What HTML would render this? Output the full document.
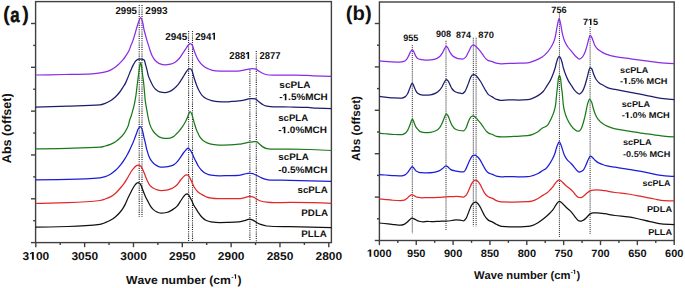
<!DOCTYPE html><html><head><meta charset="utf-8"><style>html,body{margin:0;padding:0;background:#fff;width:685px;height:288px;overflow:hidden}svg{display:block}text{font-family:"Liberation Sans",sans-serif;font-weight:bold;font-kerning:none;text-rendering:geometricPrecision}</style></head><body>
<svg width="685" height="288" viewBox="0 0 685 288" xmlns="http://www.w3.org/2000/svg">
<rect width="685" height="288" fill="#fff"/>
<rect x="35.6" y="1.6" width="295.79999999999995" height="241.0" fill="none" stroke="#404040" stroke-width="1.4"/>
<line x1="31.00" y1="242.60" x2="35.6" y2="242.60" stroke="#404040" stroke-width="1.4"/>
<line x1="33.20" y1="220.69" x2="35.6" y2="220.69" stroke="#404040" stroke-width="1.4"/>
<line x1="31.00" y1="198.78" x2="35.6" y2="198.78" stroke="#404040" stroke-width="1.4"/>
<line x1="33.20" y1="176.87" x2="35.6" y2="176.87" stroke="#404040" stroke-width="1.4"/>
<line x1="31.00" y1="154.96" x2="35.6" y2="154.96" stroke="#404040" stroke-width="1.4"/>
<line x1="33.20" y1="133.05" x2="35.6" y2="133.05" stroke="#404040" stroke-width="1.4"/>
<line x1="31.00" y1="111.14" x2="35.6" y2="111.14" stroke="#404040" stroke-width="1.4"/>
<line x1="33.20" y1="89.23" x2="35.6" y2="89.23" stroke="#404040" stroke-width="1.4"/>
<line x1="31.00" y1="67.32" x2="35.6" y2="67.32" stroke="#404040" stroke-width="1.4"/>
<line x1="33.20" y1="45.41" x2="35.6" y2="45.41" stroke="#404040" stroke-width="1.4"/>
<line x1="31.00" y1="23.50" x2="35.6" y2="23.50" stroke="#404040" stroke-width="1.4"/>
<line x1="35.80" y1="242.6" x2="35.80" y2="247.20" stroke="#404040" stroke-width="1.4"/>
<line x1="84.63" y1="242.6" x2="84.63" y2="247.20" stroke="#404040" stroke-width="1.4"/>
<line x1="133.47" y1="242.6" x2="133.47" y2="247.20" stroke="#404040" stroke-width="1.4"/>
<line x1="182.30" y1="242.6" x2="182.30" y2="247.20" stroke="#404040" stroke-width="1.4"/>
<line x1="231.13" y1="242.6" x2="231.13" y2="247.20" stroke="#404040" stroke-width="1.4"/>
<line x1="279.97" y1="242.6" x2="279.97" y2="247.20" stroke="#404040" stroke-width="1.4"/>
<line x1="328.80" y1="242.6" x2="328.80" y2="247.20" stroke="#404040" stroke-width="1.4"/>
<line x1="60.22" y1="242.6" x2="60.22" y2="245.00" stroke="#404040" stroke-width="1.4"/>
<line x1="109.05" y1="242.6" x2="109.05" y2="245.00" stroke="#404040" stroke-width="1.4"/>
<line x1="157.88" y1="242.6" x2="157.88" y2="245.00" stroke="#404040" stroke-width="1.4"/>
<line x1="206.72" y1="242.6" x2="206.72" y2="245.00" stroke="#404040" stroke-width="1.4"/>
<line x1="255.55" y1="242.6" x2="255.55" y2="245.00" stroke="#404040" stroke-width="1.4"/>
<line x1="304.38" y1="242.6" x2="304.38" y2="245.00" stroke="#404040" stroke-width="1.4"/>
<line x1="139.2" y1="5" x2="139.2" y2="217" stroke="#222" stroke-width="1.1" stroke-dasharray="1.1 1.1"/>
<line x1="142.0" y1="5" x2="142.0" y2="217" stroke="#222" stroke-width="1.1" stroke-dasharray="1.1 1.1"/>
<line x1="188.6" y1="31" x2="188.6" y2="242.0" stroke="#222" stroke-width="1.1" stroke-dasharray="1.1 1.1"/>
<line x1="192.5" y1="31" x2="192.5" y2="242.0" stroke="#222" stroke-width="1.1" stroke-dasharray="1.1 1.1"/>
<line x1="249.9" y1="69.6" x2="249.9" y2="241" stroke="#222" stroke-width="1.1" stroke-dasharray="1.1 1.1"/>
<line x1="256.3" y1="51" x2="256.3" y2="242.0" stroke="#222" stroke-width="1.1" stroke-dasharray="1.1 1.1"/>
<path d="M35.60,75.00C45.07,74.87 54.53,74.70 64.00,74.50C73.33,74.31 82.67,74.23 92.00,73.80C95.30,73.65 98.60,73.16 101.90,72.60C104.23,72.21 106.57,71.63 108.90,70.80C110.73,70.15 112.57,69.03 114.40,67.80C116.03,66.71 117.67,65.13 119.30,63.60C120.57,62.41 121.83,61.23 123.10,59.70C123.97,58.66 124.83,57.31 125.70,56.00C126.77,54.39 127.83,52.97 128.90,50.80C129.57,49.44 130.23,47.29 130.90,45.60C131.60,43.82 132.30,42.38 133.00,40.40C133.53,38.89 134.07,36.99 134.60,35.20C135.10,33.52 135.60,31.73 136.10,30.00C136.53,28.50 136.97,26.88 137.40,25.50C137.90,23.91 138.40,22.31 138.90,21.10C139.47,19.72 140.03,17.60 140.60,17.60C141.20,17.60 141.80,19.35 142.40,21.10C142.70,21.98 143.00,23.91 143.30,25.50C143.53,26.73 143.77,28.41 144.00,29.50C144.50,31.84 145.00,33.32 145.50,35.20C145.97,36.95 146.43,38.83 146.90,40.40C147.47,42.31 148.03,43.78 148.60,45.60C149.07,47.10 149.53,48.92 150.00,50.30C150.67,52.27 151.33,54.16 152.00,55.50C153.00,57.51 154.00,59.25 155.00,60.30C156.47,61.83 157.93,63.07 159.40,63.60C161.27,64.28 163.13,64.90 165.00,64.90C166.87,64.90 168.73,64.50 170.60,64.10C172.13,63.77 173.67,63.08 175.20,62.20C176.53,61.43 177.87,60.01 179.20,58.50C180.33,57.22 181.47,55.27 182.60,53.60C183.53,52.23 184.47,50.78 185.40,49.40C186.33,48.02 187.27,46.30 188.20,45.30C188.90,44.55 189.60,43.50 190.30,43.50C191.00,43.50 191.70,44.32 192.40,45.30C192.85,45.93 193.30,48.10 193.75,49.40C194.43,51.37 195.12,53.41 195.80,55.00C196.73,57.17 197.67,59.22 198.60,60.60C200.00,62.67 201.40,64.24 202.80,65.40C204.63,66.92 206.47,68.17 208.30,68.90C210.67,69.84 213.03,70.81 215.40,70.90C218.87,71.03 222.33,71.10 225.80,71.10C229.28,71.10 232.77,71.10 236.25,71.10C238.33,71.10 240.42,70.70 242.50,70.40C244.58,70.10 246.67,69.45 248.75,69.10C250.13,68.87 251.52,68.50 252.90,68.50C253.93,68.50 254.97,68.79 256.00,69.10C257.17,69.45 258.33,70.80 259.50,71.50C261.10,72.45 262.70,73.52 264.30,74.00C265.87,74.47 267.43,74.93 269.00,75.00C272.13,75.13 275.27,75.20 278.40,75.20C284.23,75.20 290.07,75.00 295.90,75.00C301.73,75.00 307.57,75.57 313.40,75.80C319.40,76.03 325.40,76.24 331.40,76.40" fill="none" stroke="#8a2be8" stroke-width="1.25" stroke-linejoin="round"/>
<path d="M35.60,107.10C46.40,106.87 57.20,106.56 68.00,106.20C78.67,105.85 89.33,105.83 100.00,104.90C101.73,104.75 103.47,104.03 105.20,103.40C106.93,102.77 108.67,101.86 110.40,100.80C112.13,99.74 113.87,98.31 115.60,96.70C117.00,95.40 118.40,93.82 119.80,92.00C120.83,90.66 121.87,88.92 122.90,87.30C123.77,85.94 124.63,84.77 125.50,83.10C126.37,81.43 127.23,78.98 128.10,76.90C128.97,74.82 129.83,72.59 130.70,70.60C131.57,68.60 132.43,66.51 133.30,64.90C134.17,63.29 135.03,61.44 135.90,60.70C136.77,59.96 137.63,59.30 138.50,59.20C139.57,59.08 140.63,59.00 141.70,59.00C142.53,59.00 143.37,59.41 144.20,60.10C144.70,60.52 145.20,63.42 145.70,65.20C146.17,66.86 146.63,68.53 147.10,70.40C147.50,72.00 147.90,74.31 148.30,75.60C149.00,77.86 149.70,79.25 150.40,80.80C151.27,82.72 152.13,84.62 153.00,86.00C153.83,87.32 154.67,88.57 155.50,89.30C156.87,90.51 158.23,91.55 159.60,91.90C161.33,92.34 163.07,92.70 164.80,92.70C166.53,92.70 168.27,92.04 170.00,91.40C171.40,90.88 172.80,89.74 174.20,88.60C175.55,87.50 176.90,86.06 178.25,84.40C179.30,83.11 180.35,81.33 181.40,79.70C182.27,78.35 183.13,76.88 184.00,75.50C184.87,74.12 185.73,72.60 186.60,71.40C187.30,70.43 188.00,68.80 188.70,68.80C189.38,68.80 190.07,68.80 190.75,68.80C191.27,68.80 191.78,70.18 192.30,71.40C192.67,72.27 193.03,74.23 193.40,75.50C194.00,77.59 194.60,79.51 195.20,81.30C195.80,83.09 196.40,84.84 197.00,86.30C197.73,88.08 198.47,89.70 199.20,91.00C200.23,92.83 201.27,94.55 202.30,95.60C203.70,97.02 205.10,98.07 206.50,98.75C208.23,99.60 209.97,100.21 211.70,100.60C213.77,101.06 215.83,101.51 217.90,101.60C220.68,101.72 223.47,101.80 226.25,101.80C228.17,101.80 230.08,101.54 232.00,101.40C234.27,101.24 236.53,101.13 238.80,100.90C240.53,100.72 242.27,100.44 244.00,100.10C245.47,99.81 246.93,99.12 248.40,98.90C249.70,98.71 251.00,98.50 252.30,98.50C253.33,98.50 254.37,98.67 255.40,98.90C256.57,99.16 257.73,100.89 258.90,101.80C260.07,102.71 261.23,103.78 262.40,104.40C263.87,105.18 265.33,105.98 266.80,106.20C269.13,106.55 271.47,106.74 273.80,106.80C279.20,106.93 284.60,106.91 290.00,107.00C296.03,107.10 302.07,107.16 308.10,107.40C310.77,107.51 313.43,108.07 316.10,108.20C321.20,108.45 326.30,108.65 331.40,108.65" fill="none" stroke="#1c1c6e" stroke-width="1.25" stroke-linejoin="round"/>
<path d="M35.60,148.80C46.40,148.74 57.20,148.53 68.00,148.30C78.67,148.07 89.33,147.98 100.00,147.20C101.73,147.07 103.47,146.47 105.20,146.00C106.93,145.53 108.67,144.99 110.40,144.30C112.13,143.61 113.87,142.79 115.60,141.70C117.33,140.61 119.07,139.05 120.80,137.30C122.03,136.06 123.27,134.58 124.50,132.80C125.37,131.55 126.23,130.08 127.10,128.30C127.57,127.34 128.03,126.38 128.50,124.90C128.80,123.95 129.10,122.05 129.40,121.00C130.02,118.84 130.63,117.75 131.25,115.80C131.73,114.27 132.22,112.36 132.70,110.60C133.17,108.90 133.63,107.44 134.10,105.40C134.43,103.94 134.77,102.03 135.10,100.20C135.40,98.56 135.70,97.07 136.00,95.00C136.20,93.62 136.40,91.67 136.60,90.00C136.90,87.50 137.20,84.87 137.50,82.50C137.83,79.87 138.17,77.50 138.50,75.00C138.83,72.50 139.17,69.37 139.50,67.50C139.87,65.44 140.23,62.60 140.60,62.60C140.97,62.60 141.33,65.35 141.70,67.50C142.00,69.26 142.30,72.63 142.60,75.00C142.93,77.63 143.27,79.53 143.60,82.50C143.83,84.58 144.07,87.45 144.30,90.00C144.45,91.64 144.60,93.30 144.75,95.00C144.90,96.70 145.05,98.92 145.20,100.20C145.47,102.48 145.73,103.77 146.00,105.40C146.30,107.24 146.60,108.92 146.90,110.60C147.20,112.28 147.50,113.97 147.80,115.50C148.13,117.20 148.47,118.91 148.80,120.30C149.27,122.25 149.73,124.16 150.20,125.40C151.07,127.71 151.93,129.29 152.80,130.60C153.67,131.91 154.53,132.90 155.40,133.75C156.80,135.12 158.20,136.56 159.60,137.10C161.33,137.77 163.07,138.40 164.80,138.40C166.53,138.40 168.27,138.29 170.00,138.10C171.17,137.98 172.33,137.29 173.50,136.60C174.53,135.99 175.57,134.70 176.60,133.70C177.30,133.02 178.00,132.38 178.70,131.60C179.90,130.26 181.10,128.63 182.30,126.90C183.17,125.65 184.03,124.29 184.90,122.75C185.60,121.51 186.30,120.19 187.00,118.60C187.53,117.39 188.07,115.59 188.60,114.40C189.10,113.29 189.60,111.50 190.10,111.50C190.70,111.50 191.30,113.03 191.90,114.40C192.37,115.47 192.83,117.93 193.30,119.60C193.80,121.39 194.30,123.19 194.80,124.80C195.37,126.63 195.93,128.47 196.50,129.90C197.07,131.33 197.63,132.40 198.20,133.60C198.63,134.52 199.07,135.62 199.50,136.30C200.60,138.03 201.70,139.32 202.80,140.20C204.27,141.37 205.73,142.23 207.20,142.80C208.93,143.48 210.67,144.03 212.40,144.30C214.70,144.65 217.00,145.00 219.30,145.00C222.77,145.00 226.23,144.90 229.70,144.80C232.73,144.71 235.77,144.50 238.80,144.20C240.53,144.03 242.27,143.63 244.00,143.30C245.77,142.97 247.53,142.46 249.30,142.20C250.47,142.03 251.63,141.91 252.80,141.80C253.97,141.69 255.13,141.50 256.30,141.50C257.17,141.50 258.03,142.79 258.90,143.50C260.07,144.46 261.23,145.89 262.40,146.60C263.87,147.49 265.33,148.38 266.80,148.60C269.13,148.95 271.47,149.20 273.80,149.20C279.20,149.20 284.60,149.00 290.00,149.00C303.80,149.00 317.60,149.52 331.40,150.50" fill="none" stroke="#1a7a1a" stroke-width="1.25" stroke-linejoin="round"/>
<path d="M35.60,179.80C46.40,179.80 57.20,179.61 68.00,179.40C78.67,179.19 89.33,178.84 100.00,177.80C101.73,177.63 103.47,177.13 105.20,176.60C106.93,176.07 108.67,175.19 110.40,174.20C112.13,173.21 113.87,171.84 115.60,170.30C117.33,168.76 119.07,166.75 120.80,164.60C122.03,163.07 123.27,161.30 124.50,159.40C125.37,158.06 126.23,156.56 127.10,155.00C127.87,153.62 128.63,152.16 129.40,150.60C130.02,149.35 130.63,147.97 131.25,146.60C131.87,145.23 132.48,143.88 133.10,142.40C133.70,140.96 134.30,139.37 134.90,137.80C135.43,136.40 135.97,134.96 136.50,133.50C137.00,132.13 137.50,130.18 138.00,129.30C138.70,128.07 139.40,126.70 140.10,126.70C140.63,126.70 141.17,127.42 141.70,128.25C142.10,128.87 142.50,130.80 142.90,132.40C143.27,133.87 143.63,136.01 144.00,137.60C144.43,139.48 144.87,140.92 145.30,142.80C145.67,144.39 146.03,146.52 146.40,148.00C146.70,149.21 147.00,150.18 147.30,151.20C147.73,152.67 148.17,154.31 148.60,155.40C149.48,157.62 150.37,159.39 151.25,160.60C152.63,162.49 154.02,163.94 155.40,164.80C157.13,165.88 158.87,167.10 160.60,167.10C162.33,167.10 164.07,167.01 165.80,166.90C167.53,166.79 169.27,166.29 171.00,165.80C172.00,165.52 173.00,165.15 174.00,164.60C175.03,164.03 176.07,162.99 177.10,161.90C178.15,160.79 179.20,159.18 180.25,157.70C181.30,156.22 182.35,154.39 183.40,153.00C184.27,151.86 185.13,150.76 186.00,149.90C186.70,149.21 187.40,148.10 188.10,148.10C188.77,148.10 189.43,149.12 190.10,149.90C190.80,150.72 191.50,152.14 192.20,153.50C192.90,154.86 193.60,156.72 194.30,158.20C195.00,159.68 195.70,161.05 196.40,162.40C197.13,163.82 197.87,165.38 198.60,166.50C199.57,167.98 200.53,169.26 201.50,170.20C202.93,171.60 204.37,172.83 205.80,173.50C207.53,174.31 209.27,174.99 211.00,175.20C213.90,175.55 216.80,175.80 219.70,175.80C222.60,175.80 225.50,175.67 228.40,175.60C231.87,175.51 235.33,175.49 238.80,175.30C240.53,175.20 242.27,174.55 244.00,174.20C245.90,173.82 247.80,173.10 249.70,173.10C250.73,173.10 251.77,173.42 252.80,173.70C253.97,174.01 255.13,174.75 256.30,175.30C257.47,175.85 258.63,176.47 259.80,177.00C261.53,177.79 263.27,178.78 265.00,179.20C266.77,179.63 268.53,180.06 270.30,180.10C276.87,180.25 283.43,180.21 290.00,180.30C303.80,180.49 317.60,180.88 331.40,181.40" fill="none" stroke="#1c1cd8" stroke-width="1.25" stroke-linejoin="round"/>
<path d="M35.60,203.40C46.40,203.40 57.20,203.06 68.00,202.70C78.67,202.35 89.33,201.89 100.00,200.50C101.73,200.27 103.47,199.58 105.20,199.00C106.93,198.42 108.67,197.79 110.40,196.90C112.13,196.01 113.87,194.70 115.60,193.20C117.33,191.70 119.07,189.55 120.80,187.50C122.03,186.04 123.27,184.57 124.50,182.80C125.37,181.56 126.23,180.04 127.10,178.60C127.90,177.27 128.70,175.87 129.50,174.50C130.08,173.50 130.67,172.36 131.25,171.50C132.30,169.95 133.35,168.53 134.40,167.50C135.27,166.65 136.13,165.66 137.00,165.40C137.70,165.19 138.40,165.00 139.10,165.00C139.77,165.00 140.43,165.78 141.10,166.50C141.63,167.07 142.17,168.29 142.70,169.40C143.40,170.85 144.10,172.87 144.80,174.60C145.50,176.33 146.20,178.26 146.90,179.80C147.77,181.70 148.63,183.79 149.50,184.90C150.53,186.22 151.57,187.15 152.60,187.80C153.82,188.56 155.03,189.16 156.25,189.50C158.00,189.99 159.75,190.50 161.50,190.50C163.23,190.50 164.97,190.37 166.70,190.20C168.43,190.03 170.17,189.17 171.90,188.40C172.60,188.09 173.30,187.66 174.00,187.20C175.03,186.52 176.07,185.74 177.10,184.70C178.15,183.65 179.20,181.79 180.25,180.50C181.30,179.21 182.35,177.92 183.40,176.90C184.10,176.22 184.80,175.29 185.50,175.10C186.10,174.94 186.70,174.80 187.30,174.80C187.90,174.80 188.50,175.59 189.10,176.30C189.63,176.93 190.17,178.34 190.70,179.50C191.20,180.59 191.70,182.00 192.20,183.10C192.90,184.64 193.60,186.15 194.30,187.30C195.17,188.73 196.03,189.99 196.90,190.90C197.93,191.99 198.97,192.82 200.00,193.50C201.17,194.27 202.33,194.77 203.50,195.40C204.63,196.01 205.77,196.83 206.90,197.20C208.37,197.67 209.83,198.02 211.30,198.20C213.33,198.45 215.37,198.70 217.40,198.70C220.27,198.70 223.13,198.70 226.00,198.70C230.27,198.70 234.53,198.70 238.80,198.70C240.53,198.70 242.27,198.16 244.00,197.80C245.90,197.40 247.80,196.30 249.70,196.30C250.73,196.30 251.77,196.60 252.80,196.90C253.97,197.23 255.13,198.28 256.30,198.90C257.73,199.66 259.17,200.59 260.60,201.00C262.67,201.59 264.73,201.98 266.80,202.20C269.13,202.45 271.47,202.70 273.80,202.70C279.20,202.70 284.60,202.40 290.00,202.40C303.80,202.40 317.60,202.60 331.40,203.30" fill="none" stroke="#e02828" stroke-width="1.25" stroke-linejoin="round"/>
<path d="M35.60,227.10C46.40,227.10 57.20,226.82 68.00,226.50C78.67,226.19 89.33,225.71 100.00,224.30C101.73,224.07 103.47,223.34 105.20,222.70C106.93,222.06 108.67,221.26 110.40,220.30C112.13,219.34 113.87,218.13 115.60,216.70C117.00,215.55 118.40,214.12 119.80,212.50C120.83,211.30 121.87,209.89 122.90,208.30C123.70,207.07 124.50,205.67 125.30,204.10C126.23,202.27 127.17,199.78 128.10,197.80C129.15,195.57 130.20,193.50 131.25,191.50C132.30,189.50 133.35,187.25 134.40,185.80C135.10,184.83 135.80,183.85 136.50,183.40C137.00,183.08 137.50,182.70 138.00,182.70C138.70,182.70 139.40,183.15 140.10,183.70C140.63,184.12 141.17,185.67 141.70,186.90C142.20,188.06 142.70,189.70 143.20,191.00C143.90,192.82 144.60,194.65 145.30,196.20C146.00,197.75 146.70,199.04 147.40,200.40C148.27,202.08 149.13,203.95 150.00,205.30C151.03,206.91 152.07,208.47 153.10,209.40C154.50,210.66 155.90,211.71 157.30,212.20C158.70,212.69 160.10,213.20 161.50,213.20C163.23,213.20 164.97,212.86 166.70,212.50C168.43,212.14 170.17,211.08 171.90,210.10C172.77,209.61 173.63,208.96 174.50,208.30C175.37,207.64 176.23,207.01 177.10,206.10C178.15,204.99 179.20,203.13 180.25,201.60C181.30,200.07 182.35,198.25 183.40,196.90C184.10,196.00 184.80,194.95 185.50,194.50C186.00,194.18 186.50,193.80 187.00,193.80C187.53,193.80 188.07,194.37 188.60,194.90C189.10,195.39 189.60,196.59 190.10,197.50C190.63,198.48 191.17,199.50 191.70,200.60C192.40,202.05 193.10,204.00 193.80,205.30C194.67,206.91 195.53,208.05 196.40,209.40C197.27,210.75 198.13,212.15 199.00,213.40C199.83,214.60 200.67,215.93 201.50,216.80C202.93,218.29 204.37,219.65 205.80,220.30C207.53,221.09 209.27,221.69 211.00,221.90C213.90,222.25 216.80,222.50 219.70,222.50C222.60,222.50 225.50,222.39 228.40,222.30C231.87,222.19 235.33,222.09 238.80,221.80C240.53,221.65 242.27,221.11 244.00,220.70C245.90,220.26 247.80,219.20 249.70,219.20C250.73,219.20 251.77,219.69 252.80,220.10C253.97,220.56 255.13,221.66 256.30,222.30C257.73,223.09 259.17,223.91 260.60,224.40C262.67,225.11 264.73,225.77 266.80,226.00C269.13,226.26 271.47,226.45 273.80,226.50C279.20,226.63 284.60,226.62 290.00,226.70C303.80,226.91 317.60,227.21 331.40,227.60" fill="none" stroke="#111111" stroke-width="1.25" stroke-linejoin="round"/>
<g transform="translate(115.46,13.90) scale(0.9666,1)"><text x="0.000" y="0.000" font-size="10.0" fill="#111" >2995</text></g>
<g transform="translate(145.35,13.90) scale(0.9982,1)"><text x="0.000" y="0.000" font-size="10.0" fill="#111" >2993</text></g>
<g transform="translate(165.36,39.60) scale(0.9898,1)"><text x="0.000" y="0.000" font-size="10.0" fill="#111" >2945</text></g>
<g transform="translate(195.27,39.70) scale(0.9620,1)"><text x="0.000" y="0.000" font-size="10.0" fill="#111" >294</text><path transform="translate(16.685,0.000) scale(0.004883,-0.004883)" d="M455,0L455,1145L125,940L125,1190L480,1409L785,1409L785,0Z" fill="#111"/></g>
<g transform="translate(229.37,59.00) scale(0.9620,1)"><text x="0.000" y="0.000" font-size="10.0" fill="#111" >288</text><path transform="translate(16.685,0.000) scale(0.004883,-0.004883)" d="M455,0L455,1145L125,940L125,1190L480,1409L785,1409L785,0Z" fill="#111"/></g>
<g transform="translate(259.57,59.00) scale(0.9459,1)"><text x="0.000" y="0.000" font-size="10.0" fill="#111" >2877</text></g>
<g transform="translate(279.35,88.00) scale(1.0670,1)"><text x="0.000" y="0.000" font-size="9.4" fill="#111" >scPLA</text></g>
<g transform="translate(279.31,100.30) scale(1.0564,1)"><text x="0.000" y="0.000" font-size="9.4" fill="#111" >-</text><path transform="translate(3.130,0.000) scale(0.004590,-0.004590)" d="M455,0L455,1145L125,940L125,1190L480,1409L785,1409L785,0Z" fill="#111"/><text x="8.358" y="0.000" font-size="9.4" fill="#111" >.5%MCH</text></g>
<g transform="translate(278.26,121.30) scale(1.0217,1)"><text x="0.000" y="0.000" font-size="9.4" fill="#111" >scPLA</text></g>
<g transform="translate(278.21,133.20) scale(1.0631,1)"><text x="0.000" y="0.000" font-size="9.4" fill="#111" >-</text><path transform="translate(3.130,0.000) scale(0.004590,-0.004590)" d="M455,0L455,1145L125,940L125,1190L480,1409L785,1409L785,0Z" fill="#111"/><text x="8.358" y="0.000" font-size="9.4" fill="#111" >.0%MCH</text></g>
<g transform="translate(278.25,160.10) scale(1.0461,1)"><text x="0.000" y="0.000" font-size="9.4" fill="#111" >scPLA</text></g>
<g transform="translate(278.20,172.60) scale(1.0765,1)"><text x="0.000" y="0.000" font-size="9.4" fill="#111" >-0.5%MCH</text></g>
<g transform="translate(297.46,193.00) scale(1.0391,1)"><text x="0.000" y="0.000" font-size="9.4" fill="#111" >scPLA</text></g>
<g transform="translate(301.34,216.10) scale(1.0440,1)"><text x="0.000" y="0.000" font-size="9.4" fill="#111" >PDLA</text></g>
<g transform="translate(301.35,236.70) scale(1.0395,1)"><text x="0.000" y="0.000" font-size="9.4" fill="#111" >PLLA</text></g>
<rect x="379.4" y="2.0" width="294.80000000000007" height="238.5" fill="none" stroke="#404040" stroke-width="1.4"/>
<line x1="374.80" y1="240.50" x2="379.4" y2="240.50" stroke="#404040" stroke-width="1.4"/>
<line x1="377.00" y1="218.80" x2="379.4" y2="218.80" stroke="#404040" stroke-width="1.4"/>
<line x1="374.80" y1="197.10" x2="379.4" y2="197.10" stroke="#404040" stroke-width="1.4"/>
<line x1="377.00" y1="175.40" x2="379.4" y2="175.40" stroke="#404040" stroke-width="1.4"/>
<line x1="374.80" y1="153.70" x2="379.4" y2="153.70" stroke="#404040" stroke-width="1.4"/>
<line x1="377.00" y1="132.00" x2="379.4" y2="132.00" stroke="#404040" stroke-width="1.4"/>
<line x1="374.80" y1="110.30" x2="379.4" y2="110.30" stroke="#404040" stroke-width="1.4"/>
<line x1="377.00" y1="88.60" x2="379.4" y2="88.60" stroke="#404040" stroke-width="1.4"/>
<line x1="374.80" y1="66.90" x2="379.4" y2="66.90" stroke="#404040" stroke-width="1.4"/>
<line x1="377.00" y1="45.20" x2="379.4" y2="45.20" stroke="#404040" stroke-width="1.4"/>
<line x1="374.80" y1="23.50" x2="379.4" y2="23.50" stroke="#404040" stroke-width="1.4"/>
<line x1="379.40" y1="240.5" x2="379.40" y2="245.10" stroke="#404040" stroke-width="1.4"/>
<line x1="416.25" y1="240.5" x2="416.25" y2="245.10" stroke="#404040" stroke-width="1.4"/>
<line x1="453.10" y1="240.5" x2="453.10" y2="245.10" stroke="#404040" stroke-width="1.4"/>
<line x1="489.95" y1="240.5" x2="489.95" y2="245.10" stroke="#404040" stroke-width="1.4"/>
<line x1="526.80" y1="240.5" x2="526.80" y2="245.10" stroke="#404040" stroke-width="1.4"/>
<line x1="563.65" y1="240.5" x2="563.65" y2="245.10" stroke="#404040" stroke-width="1.4"/>
<line x1="600.50" y1="240.5" x2="600.50" y2="245.10" stroke="#404040" stroke-width="1.4"/>
<line x1="637.35" y1="240.5" x2="637.35" y2="245.10" stroke="#404040" stroke-width="1.4"/>
<line x1="674.20" y1="240.5" x2="674.20" y2="245.10" stroke="#404040" stroke-width="1.4"/>
<line x1="397.82" y1="240.5" x2="397.82" y2="242.90" stroke="#404040" stroke-width="1.4"/>
<line x1="434.68" y1="240.5" x2="434.68" y2="242.90" stroke="#404040" stroke-width="1.4"/>
<line x1="471.52" y1="240.5" x2="471.52" y2="242.90" stroke="#404040" stroke-width="1.4"/>
<line x1="508.38" y1="240.5" x2="508.38" y2="242.90" stroke="#404040" stroke-width="1.4"/>
<line x1="545.23" y1="240.5" x2="545.23" y2="242.90" stroke="#404040" stroke-width="1.4"/>
<line x1="582.08" y1="240.5" x2="582.08" y2="242.90" stroke="#404040" stroke-width="1.4"/>
<line x1="618.93" y1="240.5" x2="618.93" y2="242.90" stroke="#404040" stroke-width="1.4"/>
<line x1="655.78" y1="240.5" x2="655.78" y2="242.90" stroke="#404040" stroke-width="1.4"/>
<line x1="412.3" y1="45.2" x2="412.3" y2="233.6" stroke="#222" stroke-width="1.0" stroke-dasharray="1 0.96"/>
<line x1="446.0" y1="40.8" x2="446.0" y2="230" stroke="#222" stroke-width="1.0" stroke-dasharray="1 0.96"/>
<line x1="473.3" y1="37.7" x2="473.3" y2="226.3" stroke="#222" stroke-width="1.0" stroke-dasharray="1 0.96"/>
<line x1="476.1" y1="37.7" x2="476.1" y2="226.3" stroke="#222" stroke-width="1.0" stroke-dasharray="1 0.96"/>
<line x1="559.4" y1="12.5" x2="559.4" y2="237.6" stroke="#222" stroke-width="1.0" stroke-dasharray="1 0.96"/>
<line x1="590.1" y1="27" x2="590.1" y2="234.4" stroke="#222" stroke-width="1.0" stroke-dasharray="1 0.96"/>
<path d="M379.40,60.80C381.00,61.04 382.60,61.26 384.20,61.40C386.63,61.62 389.07,61.81 391.50,61.90C394.27,62.00 397.03,62.10 399.80,62.10C401.20,62.10 402.60,61.81 404.00,61.40C404.87,61.15 405.73,60.27 406.60,59.30C407.30,58.51 408.00,56.96 408.70,55.60C409.22,54.60 409.73,53.09 410.25,52.30C410.93,51.25 411.62,49.90 412.30,49.90C412.83,49.90 413.37,51.12 413.90,52.00C414.43,52.88 414.97,54.66 415.50,55.60C416.10,56.66 416.70,57.80 417.30,58.20C418.27,58.85 419.23,59.19 420.20,59.40C421.93,59.77 423.67,60.10 425.40,60.10C427.13,60.10 428.87,60.01 430.60,59.90C432.33,59.79 434.07,59.36 435.80,58.80C437.20,58.35 438.60,57.43 440.00,56.20C440.87,55.44 441.73,54.03 442.60,52.60C443.30,51.45 444.00,49.52 444.70,48.40C445.22,47.57 445.73,46.30 446.25,46.30C446.77,46.30 447.28,47.21 447.80,47.90C448.50,48.84 449.20,50.95 449.90,52.10C450.77,53.53 451.63,54.93 452.50,55.70C453.37,56.47 454.23,56.96 455.10,57.40C456.15,57.94 457.20,58.53 458.25,58.70C459.63,58.92 461.02,59.10 462.40,59.10C463.43,59.10 464.47,58.29 465.50,57.40C466.20,56.79 466.90,55.01 467.60,53.70C468.30,52.39 469.00,50.88 469.70,49.50C470.23,48.45 470.77,46.98 471.30,46.40C471.98,45.66 472.67,44.90 473.35,44.90C474.03,44.90 474.72,45.46 475.40,45.90C476.27,46.46 477.13,47.56 478.00,48.50C478.87,49.44 479.73,50.49 480.60,51.60C481.48,52.74 482.37,54.08 483.25,55.30C484.13,56.52 485.02,58.09 485.90,58.90C486.77,59.69 487.63,60.38 488.50,60.70C489.73,61.16 490.97,61.23 492.20,61.60C493.57,62.01 494.93,62.97 496.30,63.20C498.03,63.50 499.77,63.75 501.50,63.75C505.67,63.75 509.83,63.44 514.00,63.30C518.53,63.15 523.07,63.17 527.60,62.90C530.03,62.76 532.47,61.54 534.90,60.60C537.33,59.66 539.77,58.59 542.20,57.00C543.97,55.85 545.73,54.10 547.50,52.10C548.70,50.74 549.90,49.00 551.10,47.00C552.07,45.39 553.03,43.78 554.00,41.20C554.53,39.78 555.07,37.75 555.60,35.30C555.93,33.77 556.27,31.34 556.60,29.50C556.97,27.47 557.33,25.29 557.70,23.70C558.17,21.67 558.63,18.60 559.10,18.60C559.60,18.60 560.10,21.52 560.60,23.70C560.93,25.15 561.27,27.74 561.60,29.50C562.00,31.61 562.40,33.76 562.80,35.30C563.43,37.73 564.07,39.72 564.70,41.20C565.77,43.70 566.83,45.45 567.90,47.00C569.33,49.08 570.77,50.39 572.20,52.10C573.33,53.46 574.47,55.20 575.60,56.20C576.97,57.40 578.33,59.00 579.70,59.00C580.63,59.00 581.57,57.91 582.50,56.90C583.43,55.89 584.37,53.74 585.30,51.40C586.00,49.65 586.70,46.99 587.40,44.40C587.85,42.74 588.30,40.33 588.75,38.90C589.20,37.47 589.65,35.40 590.10,35.40C590.57,35.40 591.03,36.13 591.50,36.80C591.97,37.47 592.43,39.11 592.90,40.30C593.60,42.09 594.30,44.60 595.00,45.80C595.93,47.41 596.87,48.46 597.80,49.30C599.17,50.53 600.53,51.31 601.90,52.10C603.30,52.91 604.70,53.69 606.10,54.20C609.13,55.32 612.17,56.13 615.20,56.70C620.30,57.66 625.40,58.12 630.50,58.80C635.63,59.49 640.77,60.11 645.90,60.80C651.00,61.48 656.10,62.51 661.20,62.90C665.53,63.23 669.87,63.53 674.20,63.60" fill="none" stroke="#8a2be8" stroke-width="1.25" stroke-linejoin="round"/>
<path d="M379.40,96.40C381.35,96.66 383.30,96.90 385.25,97.10C388.37,97.41 391.48,97.77 394.60,97.90C397.03,98.00 399.47,98.10 401.90,98.10C402.93,98.10 403.97,97.52 405.00,96.90C405.87,96.38 406.73,95.18 407.60,93.75C408.30,92.59 409.00,90.09 409.70,88.50C410.57,86.53 411.43,83.10 412.30,83.10C413.00,83.10 413.70,85.98 414.40,87.50C414.93,88.66 415.47,90.26 416.00,91.10C416.70,92.21 417.40,93.12 418.10,93.60C418.80,94.08 419.50,94.46 420.20,94.60C421.93,94.95 423.67,95.20 425.40,95.20C427.13,95.20 428.87,95.02 430.60,94.80C432.33,94.58 434.07,93.91 435.80,93.10C437.03,92.52 438.27,91.53 439.50,90.30C440.37,89.44 441.23,88.13 442.10,86.70C442.80,85.55 443.50,83.66 444.20,82.50C444.88,81.37 445.57,79.60 446.25,79.60C446.87,79.60 447.48,80.25 448.10,80.90C448.70,81.53 449.30,83.39 449.90,84.60C450.60,86.01 451.30,87.82 452.00,88.75C453.03,90.12 454.07,91.24 455.10,91.75C456.15,92.27 457.20,92.56 458.25,92.80C459.63,93.11 461.02,93.50 462.40,93.50C463.27,93.50 464.13,92.44 465.00,91.40C465.70,90.56 466.40,88.43 467.10,86.75C467.63,85.47 468.17,84.04 468.70,82.60C469.20,81.25 469.70,79.50 470.20,78.40C470.73,77.22 471.27,75.91 471.80,75.50C472.50,74.96 473.20,74.50 473.90,74.50C474.60,74.50 475.30,75.02 476.00,75.50C476.67,75.96 477.33,77.05 478.00,77.90C478.87,79.01 479.73,80.15 480.60,81.50C481.48,82.87 482.37,84.63 483.25,86.20C484.13,87.77 485.02,89.51 485.90,90.90C486.77,92.27 487.63,93.83 488.50,94.60C489.73,95.69 490.97,96.16 492.20,96.90C493.57,97.72 494.93,98.84 496.30,99.30C497.70,99.77 499.10,100.30 500.50,100.30C503.27,100.30 506.03,99.80 508.80,99.80C512.28,99.80 515.77,100.00 519.25,100.00C522.03,100.00 524.82,99.84 527.60,99.60C529.33,99.45 531.07,98.81 532.80,98.20C534.53,97.59 536.27,96.66 538.00,95.60C539.73,94.54 541.47,93.33 543.20,91.50C544.40,90.24 545.60,87.96 546.80,86.10C547.95,84.32 549.10,82.78 550.25,80.60C551.17,78.86 552.08,76.70 553.00,74.30C553.70,72.47 554.40,70.40 555.10,68.00C555.57,66.40 556.03,64.09 556.50,62.50C556.97,60.91 557.43,59.22 557.90,58.30C558.37,57.38 558.83,56.25 559.30,56.25C559.77,56.25 560.23,57.38 560.70,58.30C561.17,59.22 561.63,60.86 562.10,62.50C562.53,64.02 562.97,66.46 563.40,68.00C564.10,70.49 564.80,72.49 565.50,74.30C566.43,76.72 567.37,78.86 568.30,80.60C569.47,82.77 570.63,84.30 571.80,86.10C572.70,87.49 573.60,89.12 574.50,90.20C575.30,91.16 576.10,92.02 576.90,92.60C577.73,93.20 578.57,94.00 579.40,94.00C580.43,94.00 581.47,92.61 582.50,91.25C583.43,90.02 584.37,87.07 585.30,84.30C586.00,82.22 586.70,79.42 587.40,76.70C587.85,74.95 588.30,72.54 588.75,71.10C589.20,69.66 589.65,67.60 590.10,67.60C590.70,67.60 591.30,68.24 591.90,69.00C592.37,69.59 592.83,71.97 593.30,73.20C594.10,75.31 594.90,77.47 595.70,78.75C596.87,80.62 598.03,81.97 599.20,82.90C600.80,84.17 602.40,84.83 604.00,85.70C605.63,86.59 607.27,87.74 608.90,88.20C611.00,88.79 613.10,89.00 615.20,89.40C620.30,90.37 625.40,91.32 630.50,92.30C635.63,93.29 640.77,94.28 645.90,95.30C651.00,96.31 656.10,97.76 661.20,98.40C665.53,98.94 669.87,99.42 674.20,99.60" fill="none" stroke="#1c1c6e" stroke-width="1.25" stroke-linejoin="round"/>
<path d="M379.40,133.10C381.35,133.34 383.30,133.57 385.25,133.75C388.37,134.04 391.48,134.38 394.60,134.50C397.03,134.60 399.47,134.70 401.90,134.70C402.93,134.70 403.97,134.05 405.00,133.40C405.87,132.85 406.73,131.66 407.60,130.30C408.30,129.20 409.00,127.18 409.70,125.60C410.63,123.49 411.57,119.20 412.50,119.20C413.13,119.20 413.77,122.05 414.40,123.50C414.93,124.72 415.47,126.37 416.00,127.20C416.70,128.29 417.40,128.87 418.10,129.60C418.80,130.33 419.50,131.35 420.20,131.60C421.93,132.21 423.67,132.60 425.40,132.60C427.13,132.60 428.87,132.47 430.60,132.30C432.33,132.13 434.07,131.55 435.80,130.80C437.03,130.27 438.27,129.28 439.50,127.90C440.37,126.93 441.23,125.02 442.10,123.20C442.80,121.73 443.50,119.55 444.20,118.00C444.88,116.49 445.57,113.90 446.25,113.90C446.87,113.90 447.48,114.96 448.10,115.90C448.70,116.82 449.30,119.15 449.90,120.60C450.60,122.29 451.30,124.23 452.00,125.30C453.20,127.14 454.40,128.70 455.60,129.30C456.83,129.92 458.07,130.35 459.30,130.50C460.70,130.67 462.10,130.80 463.50,130.80C464.33,130.80 465.17,129.42 466.00,128.10C466.60,127.15 467.20,124.71 467.80,123.20C468.40,121.69 469.00,120.04 469.60,119.00C470.20,117.96 470.80,116.81 471.40,116.50C472.03,116.17 472.67,115.90 473.30,115.90C473.90,115.90 474.50,116.46 475.10,116.90C475.90,117.49 476.70,118.69 477.50,119.60C478.53,120.78 479.57,121.87 480.60,123.20C481.60,124.48 482.60,126.12 483.60,127.50C484.60,128.88 485.60,130.60 486.60,131.50C487.63,132.43 488.67,133.20 489.70,133.60C490.53,133.93 491.37,134.01 492.20,134.30C493.57,134.78 494.93,136.17 496.30,136.40C498.03,136.69 499.77,136.90 501.50,136.90C505.67,136.90 509.83,136.60 514.00,136.40C518.53,136.18 523.07,136.08 527.60,135.60C529.33,135.42 531.07,134.88 532.80,134.30C534.53,133.72 536.27,132.79 538.00,131.70C539.37,130.84 540.73,129.18 542.10,128.30C543.70,127.27 545.30,127.08 546.90,125.80C548.30,124.68 549.70,121.62 551.10,118.80C552.03,116.92 552.97,114.84 553.90,111.90C554.47,110.12 555.03,108.39 555.60,104.90C555.83,103.46 556.07,100.37 556.30,98.00C556.47,96.31 556.63,94.38 556.80,92.80C557.00,90.90 557.20,89.41 557.40,87.60C557.58,85.94 557.77,84.11 557.95,82.40C558.10,81.00 558.25,78.96 558.40,78.25C558.77,76.52 559.13,75.10 559.50,75.10C559.83,75.10 560.17,76.65 560.50,78.25C560.67,79.05 560.83,80.86 561.00,82.40C561.17,83.94 561.33,86.14 561.50,87.60C561.73,89.64 561.97,90.76 562.20,92.80C562.37,94.26 562.53,96.18 562.70,98.00C562.90,100.18 563.10,103.43 563.30,104.90C563.77,108.33 564.23,110.15 564.70,111.90C565.50,114.89 566.30,117.06 567.10,118.80C568.48,121.81 569.87,124.00 571.25,125.80C572.40,127.30 573.55,128.62 574.70,129.50C575.63,130.22 576.57,131.20 577.50,131.20C578.07,131.20 578.63,131.20 579.20,131.20C579.93,131.20 580.67,129.57 581.40,128.20C582.10,126.89 582.80,124.38 583.50,122.00C584.20,119.62 584.90,116.67 585.60,113.60C586.27,110.67 586.93,106.01 587.60,103.90C588.30,101.69 589.00,99.00 589.70,99.00C590.40,99.00 591.10,100.82 591.80,102.50C592.27,103.62 592.73,106.40 593.20,108.00C593.90,110.40 594.60,112.70 595.30,114.30C596.20,116.36 597.10,118.03 598.00,119.20C599.40,121.02 600.80,122.30 602.20,123.30C604.07,124.64 605.93,125.61 607.80,126.40C610.27,127.45 612.73,128.33 615.20,128.90C620.30,130.07 625.40,130.59 630.50,131.40C635.63,132.22 640.77,133.07 645.90,133.80C651.00,134.53 656.10,135.28 661.20,135.80C665.53,136.24 669.87,136.63 674.20,136.90" fill="none" stroke="#1a7a1a" stroke-width="1.25" stroke-linejoin="round"/>
<path d="M379.40,174.70C381.35,174.78 383.30,174.88 385.25,175.00C388.37,175.19 391.48,175.58 394.60,175.70C397.03,175.80 399.47,175.90 401.90,175.90C402.93,175.90 403.97,175.40 405.00,174.90C405.87,174.48 406.73,173.54 407.60,172.60C408.30,171.84 409.00,170.61 409.70,169.70C410.57,168.57 411.43,166.50 412.30,166.50C413.00,166.50 413.70,168.10 414.40,168.90C415.10,169.70 415.80,170.88 416.50,171.30C417.33,171.80 418.17,172.10 419.00,172.30C419.75,172.48 420.50,172.65 421.25,172.70C423.33,172.83 425.42,172.90 427.50,172.90C429.58,172.90 431.67,172.67 433.75,172.40C435.50,172.17 437.25,171.54 439.00,170.80C440.20,170.29 441.40,169.35 442.60,168.50C443.73,167.70 444.87,165.80 446.00,165.80C446.77,165.80 447.53,166.64 448.30,167.20C449.17,167.83 450.03,169.15 450.90,169.60C451.93,170.14 452.97,170.45 454.00,170.70C455.33,171.02 456.67,171.24 458.00,171.40C459.83,171.62 461.67,171.90 463.50,171.90C464.17,171.90 464.83,170.75 465.50,169.80C466.20,168.80 466.90,166.67 467.60,165.10C468.13,163.90 468.67,162.65 469.20,161.50C469.72,160.39 470.23,159.12 470.75,158.30C471.43,157.21 472.12,155.96 472.80,155.70C473.57,155.41 474.33,155.20 475.10,155.20C475.90,155.20 476.70,156.12 477.50,156.80C478.37,157.54 479.23,158.65 480.10,159.90C480.97,161.15 481.83,163.03 482.70,164.60C483.57,166.17 484.43,168.05 485.30,169.30C486.17,170.55 487.03,171.77 487.90,172.40C488.77,173.03 489.63,173.39 490.50,173.75C491.33,174.09 492.17,174.28 493.00,174.60C494.10,175.03 495.20,175.84 496.30,176.10C498.03,176.51 499.77,176.90 501.50,176.90C503.93,176.90 506.37,176.50 508.80,176.50C512.28,176.50 515.77,176.90 519.25,176.90C522.03,176.90 524.82,176.83 527.60,176.70C529.33,176.62 531.07,176.08 532.80,175.60C534.53,175.12 536.27,174.36 538.00,173.50C539.73,172.64 541.47,171.21 543.20,170.20C543.93,169.77 544.67,169.53 545.40,169.00C546.57,168.16 547.73,166.50 548.90,164.90C550.03,163.35 551.17,161.46 552.30,159.30C553.13,157.71 553.97,156.05 554.80,153.75C555.27,152.46 555.73,150.40 556.20,148.90C556.67,147.40 557.13,145.70 557.60,144.70C558.17,143.48 558.73,141.90 559.30,141.90C559.83,141.90 560.37,143.51 560.90,144.70C561.37,145.74 561.83,147.49 562.30,148.90C562.90,150.72 563.50,153.04 564.10,154.40C565.03,156.52 565.97,158.09 566.90,159.30C568.30,161.11 569.70,161.99 571.10,163.50C572.33,164.83 573.57,166.32 574.80,167.80C575.53,168.68 576.27,169.85 577.00,170.50C577.77,171.18 578.53,172.10 579.30,172.10C580.50,172.10 581.70,171.37 582.90,170.50C583.93,169.75 584.97,167.11 586.00,165.00C586.80,163.37 587.60,160.75 588.40,159.30C589.10,158.03 589.80,156.20 590.50,156.20C591.23,156.20 591.97,157.14 592.70,157.75C593.50,158.42 594.30,159.48 595.10,160.20C596.10,161.10 597.10,162.04 598.10,162.60C599.53,163.40 600.97,163.89 602.40,164.40C604.00,164.97 605.60,165.55 607.20,165.90C609.87,166.49 612.53,166.77 615.20,167.20C620.30,168.03 625.40,168.85 630.50,169.70C635.63,170.55 640.77,171.35 645.90,172.30C651.00,173.24 656.10,174.84 661.20,175.40C665.53,175.88 669.87,176.32 674.20,176.40" fill="none" stroke="#1c1cd8" stroke-width="1.25" stroke-linejoin="round"/>
<path d="M379.40,198.90C381.00,199.01 382.60,199.15 384.20,199.30C386.80,199.55 389.40,200.03 392.00,200.20C394.90,200.39 397.80,200.60 400.70,200.60C401.87,200.60 403.03,200.44 404.20,200.20C405.07,200.03 405.93,199.16 406.80,198.50C407.67,197.84 408.53,196.69 409.40,196.10C410.27,195.51 411.13,194.70 412.00,194.70C412.87,194.70 413.73,195.48 414.60,195.90C415.47,196.32 416.33,197.02 417.20,197.20C417.97,197.36 418.73,197.42 419.50,197.50C420.60,197.62 421.70,197.80 422.80,197.80C424.27,197.80 425.73,197.60 427.20,197.60C428.93,197.60 430.67,197.70 432.40,197.70C434.70,197.70 437.00,197.53 439.30,197.40C441.33,197.28 443.37,197.02 445.40,196.90C447.60,196.77 449.80,196.70 452.00,196.60C453.40,196.53 454.80,196.40 456.20,196.40C457.57,196.40 458.93,196.57 460.30,196.70C461.37,196.80 462.43,197.10 463.50,197.10C464.37,197.10 465.23,196.18 466.10,195.30C466.77,194.62 467.43,193.06 468.10,191.70C468.63,190.62 469.17,189.22 469.70,188.00C470.23,186.78 470.77,185.38 471.30,184.40C471.98,183.14 472.67,181.72 473.35,181.25C474.15,180.70 474.95,180.20 475.75,180.20C476.50,180.20 477.25,180.89 478.00,181.50C478.70,182.07 479.40,183.27 480.10,184.40C480.80,185.53 481.50,187.12 482.20,188.50C482.90,189.88 483.60,191.64 484.30,192.70C485.17,194.01 486.03,195.10 486.90,195.80C487.77,196.50 488.63,197.05 489.50,197.40C490.40,197.76 491.30,197.85 492.20,198.20C493.57,198.73 494.93,200.11 496.30,200.60C498.03,201.22 499.77,201.84 501.50,201.90C505.67,202.04 509.83,202.10 514.00,202.10C518.53,202.10 523.07,201.95 527.60,201.70C529.33,201.60 531.07,201.23 532.80,200.80C534.53,200.37 536.27,199.41 538.00,198.50C539.73,197.59 541.47,196.17 543.20,195.10C544.50,194.30 545.80,193.77 547.10,192.80C548.15,192.02 549.20,190.81 550.25,189.70C551.30,188.59 552.35,187.44 553.40,186.10C554.27,185.00 555.13,183.32 556.00,182.40C557.03,181.30 558.07,179.80 559.10,179.80C559.97,179.80 560.83,180.74 561.70,181.40C562.57,182.06 563.43,183.17 564.30,184.00C565.17,184.83 566.03,185.68 566.90,186.40C567.93,187.25 568.97,187.83 570.00,188.70C571.07,189.60 572.13,190.62 573.20,191.80C574.07,192.76 574.93,194.26 575.80,195.10C576.83,196.10 577.87,197.41 578.90,197.50C579.60,197.56 580.30,197.60 581.00,197.60C581.83,197.60 582.67,196.76 583.50,196.20C584.67,195.41 585.83,194.02 587.00,193.10C588.03,192.29 589.07,191.30 590.10,190.90C591.10,190.51 592.10,190.21 593.10,190.10C594.57,189.93 596.03,189.80 597.50,189.80C599.83,189.80 602.17,190.36 604.50,190.70C608.00,191.21 611.50,192.02 615.00,192.50C619.37,193.10 623.73,193.39 628.10,194.00C632.50,194.62 636.90,195.56 641.30,196.40C645.67,197.23 650.03,198.21 654.40,199.00C657.60,199.58 660.80,200.44 664.00,200.60C667.40,200.77 670.80,200.90 674.20,200.90" fill="none" stroke="#e02828" stroke-width="1.25" stroke-linejoin="round"/>
<path d="M379.40,223.00C381.00,223.17 382.60,223.33 384.20,223.50C386.80,223.77 389.40,224.03 392.00,224.30C394.90,224.60 397.80,225.20 400.70,225.20C401.87,225.20 403.03,224.74 404.20,224.30C405.07,223.97 405.93,223.29 406.80,222.60C407.67,221.91 408.53,220.71 409.40,220.00C410.27,219.29 411.13,218.20 412.00,218.20C412.87,218.20 413.73,218.72 414.60,219.10C415.47,219.48 416.33,220.39 417.20,220.70C417.97,220.98 418.73,221.13 419.50,221.30C420.60,221.54 421.70,221.90 422.80,221.90C424.27,221.90 425.73,221.30 427.20,221.30C428.93,221.30 430.67,221.70 432.40,221.70C434.70,221.70 437.00,221.40 439.30,221.30C441.33,221.22 443.37,221.20 445.40,221.10C447.60,220.99 449.80,220.75 452.00,220.50C453.40,220.34 454.80,219.90 456.20,219.90C457.57,219.90 458.93,219.99 460.30,220.10C461.37,220.19 462.43,220.90 463.50,220.90C464.37,220.90 465.23,219.54 466.10,218.30C466.77,217.35 467.43,215.24 468.10,213.60C468.63,212.29 469.17,210.80 469.70,209.50C470.23,208.20 470.77,206.73 471.30,205.80C471.98,204.61 472.67,203.37 473.35,203.00C474.15,202.56 474.95,202.20 475.75,202.20C476.50,202.20 477.25,203.00 478.00,203.70C478.70,204.35 479.40,205.70 480.10,206.90C480.80,208.10 481.50,209.62 482.20,211.00C482.90,212.38 483.60,214.05 484.30,215.20C485.17,216.63 486.03,217.92 486.90,218.80C487.77,219.68 488.63,220.46 489.50,220.90C490.40,221.36 491.30,221.50 492.20,221.90C493.57,222.51 494.93,223.64 496.30,224.30C498.03,225.13 499.77,226.26 501.50,226.40C505.67,226.74 509.83,226.90 514.00,226.90C518.53,226.90 523.07,226.72 527.60,226.40C529.33,226.28 531.07,225.82 532.80,225.30C534.53,224.78 536.27,223.71 538.00,222.70C539.73,221.69 541.47,220.43 543.20,219.10C544.50,218.11 545.80,216.99 547.10,215.80C548.15,214.84 549.20,213.81 550.25,212.70C551.30,211.59 552.35,210.51 553.40,209.10C554.27,207.93 555.13,206.09 556.00,204.90C557.03,203.49 558.07,201.25 559.10,201.25C559.97,201.25 560.83,202.15 561.70,202.80C562.57,203.45 563.43,204.53 564.30,205.40C565.17,206.27 566.03,207.21 566.90,208.00C567.93,208.95 568.97,209.60 570.00,210.60C571.07,211.64 572.13,212.95 573.20,214.30C574.07,215.40 574.93,216.93 575.80,217.90C576.83,219.06 577.87,220.56 578.90,220.80C579.60,220.97 580.30,221.10 581.00,221.10C581.83,221.10 582.67,220.55 583.50,220.10C584.67,219.47 585.83,218.10 587.00,217.00C588.03,216.03 589.07,214.45 590.10,213.90C591.10,213.36 592.10,212.80 593.10,212.80C594.57,212.80 596.03,212.80 597.50,212.80C599.83,212.80 602.17,213.36 604.50,213.70C608.00,214.21 611.50,215.04 615.00,215.50C619.37,216.08 623.73,216.30 628.10,216.90C631.03,217.30 633.97,217.90 636.90,218.50C641.27,219.39 645.63,220.66 650.00,221.60C654.40,222.55 658.80,223.94 663.20,224.20C666.87,224.42 670.53,224.60 674.20,224.60" fill="none" stroke="#111111" stroke-width="1.25" stroke-linejoin="round"/>
<g transform="translate(345.79,19.80) scale(1.0151,1)"><text x="0.000" y="0.000" font-size="20" fill="#111" >(b)</text></g>
<g transform="translate(403.18,41.00) scale(0.9882,1)"><text x="0.000" y="0.000" font-size="9.2" fill="#111" >955</text></g>
<g transform="translate(435.94,36.90) scale(0.9866,1)"><text x="0.000" y="0.000" font-size="9.2" fill="#111" >908</text></g>
<g transform="translate(455.97,38.30) scale(0.9695,1)"><text x="0.000" y="0.000" font-size="9.2" fill="#111" >874</text></g>
<g transform="translate(478.20,37.90) scale(1.0218,1)"><text x="0.000" y="0.000" font-size="9.2" fill="#111" >870</text></g>
<g transform="translate(551.31,12.50) scale(0.9951,1)"><text x="0.000" y="0.000" font-size="9.2" fill="#111" >756</text></g>
<g transform="translate(582.91,25.00) scale(0.9933,1)"><text x="0.000" y="0.000" font-size="9.2" fill="#111" >7</text><path transform="translate(5.117,0.000) scale(0.004492,-0.004492)" d="M455,0L455,1145L125,940L125,1190L480,1409L785,1409L785,0Z" fill="#111"/><text x="10.233" y="0.000" font-size="9.2" fill="#111" >5</text></g>
<g transform="translate(620.08,72.50) scale(1.0682,1)"><text x="0.000" y="0.000" font-size="8.5" fill="#111" >scPLA</text></g>
<g transform="translate(620.04,83.75) scale(1.0809,1)"><text x="0.000" y="0.000" font-size="8.5" fill="#111" >-</text><path transform="translate(2.831,0.000) scale(0.004150,-0.004150)" d="M455,0L455,1145L125,940L125,1190L480,1409L785,1409L785,0Z" fill="#111"/><text x="7.558" y="0.000" font-size="8.5" fill="#111" >.5% MCH</text></g>
<g transform="translate(621.78,106.70) scale(1.0720,1)"><text x="0.000" y="0.000" font-size="8.5" fill="#111" >scPLA</text></g>
<g transform="translate(621.74,118.10) scale(1.0949,1)"><text x="0.000" y="0.000" font-size="8.5" fill="#111" >-</text><path transform="translate(2.831,0.000) scale(0.004150,-0.004150)" d="M455,0L455,1145L125,940L125,1190L480,1409L785,1409L785,0Z" fill="#111"/><text x="7.558" y="0.000" font-size="8.5" fill="#111" >.0% MCH</text></g>
<g transform="translate(622.98,145.40) scale(1.0778,1)"><text x="0.000" y="0.000" font-size="8.5" fill="#111" >scPLA</text></g>
<g transform="translate(622.94,156.60) scale(1.0786,1)"><text x="0.000" y="0.000" font-size="8.5" fill="#111" >-0.5% MCH</text></g>
<g transform="translate(642.59,186.10) scale(1.0528,1)"><text x="0.000" y="0.000" font-size="8.5" fill="#111" >scPLA</text></g>
<g transform="translate(646.98,212.30) scale(1.0830,1)"><text x="0.000" y="0.000" font-size="8.5" fill="#111" >PDLA</text></g>
<g transform="translate(648.19,234.90) scale(1.0748,1)"><text x="0.000" y="0.000" font-size="8.5" fill="#111" >PLLA</text></g>
<g transform="translate(22.59,259.80) scale(1.0600,1)"><text x="0.000" y="0.000" font-size="11.3" fill="#111" >3</text><path transform="translate(6.285,0.000) scale(0.005518,-0.005518)" d="M455,0L455,1145L125,940L125,1190L480,1409L785,1409L785,0Z" fill="#111"/><text x="12.569" y="0.000" font-size="11.3" fill="#111" >00</text></g>
<g transform="translate(71.42,259.80) scale(1.0600,1)"><text x="0.000" y="0.000" font-size="11.3" fill="#111" >3050</text></g>
<g transform="translate(120.25,259.80) scale(1.0600,1)"><text x="0.000" y="0.000" font-size="11.3" fill="#111" >3000</text></g>
<g transform="translate(169.01,259.80) scale(1.0600,1)"><text x="0.000" y="0.000" font-size="11.3" fill="#111" >2950</text></g>
<g transform="translate(217.85,259.80) scale(1.0600,1)"><text x="0.000" y="0.000" font-size="11.3" fill="#111" >2900</text></g>
<g transform="translate(266.68,259.80) scale(1.0600,1)"><text x="0.000" y="0.000" font-size="11.3" fill="#111" >2850</text></g>
<g transform="translate(315.51,259.80) scale(1.0600,1)"><text x="0.000" y="0.000" font-size="11.3" fill="#111" >2800</text></g>
<g transform="translate(367.02,256.80) scale(1.0400,1)"><path transform="translate(0.000,0.000) scale(0.005176,-0.005176)" d="M455,0L455,1145L125,940L125,1190L480,1409L785,1409L785,0Z" fill="#111"/><text x="5.895" y="0.000" font-size="10.6" fill="#111" >000</text></g>
<g transform="translate(407.09,256.80) scale(1.0400,1)"><text x="0.000" y="0.000" font-size="10.6" fill="#111" >950</text></g>
<g transform="translate(443.94,256.80) scale(1.0400,1)"><text x="0.000" y="0.000" font-size="10.6" fill="#111" >900</text></g>
<g transform="translate(480.80,256.80) scale(1.0400,1)"><text x="0.000" y="0.000" font-size="10.6" fill="#111" >850</text></g>
<g transform="translate(517.65,256.80) scale(1.0400,1)"><text x="0.000" y="0.000" font-size="10.6" fill="#111" >800</text></g>
<g transform="translate(554.44,256.80) scale(1.0400,1)"><text x="0.000" y="0.000" font-size="10.6" fill="#111" >750</text></g>
<g transform="translate(591.29,256.80) scale(1.0400,1)"><text x="0.000" y="0.000" font-size="10.6" fill="#111" >700</text></g>
<g transform="translate(628.18,256.80) scale(1.0400,1)"><text x="0.000" y="0.000" font-size="10.6" fill="#111" >650</text></g>
<g transform="translate(665.03,256.80) scale(1.0400,1)"><text x="0.000" y="0.000" font-size="10.6" fill="#111" >600</text></g>
<g transform="translate(125.99,283.70) scale(1.0500,1)"><text x="0.000" y="0.000" font-size="11.6" fill="#111" >Wave number (cm</text><text x="100.214" y="-5.000" font-size="6.5" fill="#111" >-</text><path transform="translate(102.379,-5.000) scale(0.003174,-0.003174)" d="M455,0L455,1145L125,940L125,1190L480,1409L785,1409L785,0Z" fill="#111"/><text x="106.294" y="0.000" font-size="11.6" fill="#111" >)</text></g>
<g transform="translate(473.99,278.70) scale(1.0000,1)"><text x="0.000" y="0.000" font-size="11.2" fill="#111" >Wave number (cm</text><text x="96.769" y="-4.800" font-size="6.2" fill="#111" >-</text><path transform="translate(98.833,-4.800) scale(0.003027,-0.003027)" d="M455,0L455,1145L125,940L125,1190L480,1409L785,1409L785,0Z" fill="#111"/><text x="102.582" y="0.000" font-size="11.2" fill="#111" >)</text></g>
<text transform="translate(10.60,163.21) rotate(-90) scale(1.0000,1)" font-size="12.6" fill="#111">Abs (offset)</text>
<text transform="translate(360.20,160.89) rotate(-90) scale(0.9900,1)" font-size="11.8" fill="#111">Abs (offset)</text>
<text transform="translate(3.0,21.3)" font-size="21" fill="#111">(</text>
<text transform="translate(10.25,21.6) scale(0.8,1)" font-size="21" fill="#111" stroke="#111" stroke-width="0.5">a</text>
<text transform="translate(22.1,21.3)" font-size="21" fill="#111">)</text>
</svg></body></html>
